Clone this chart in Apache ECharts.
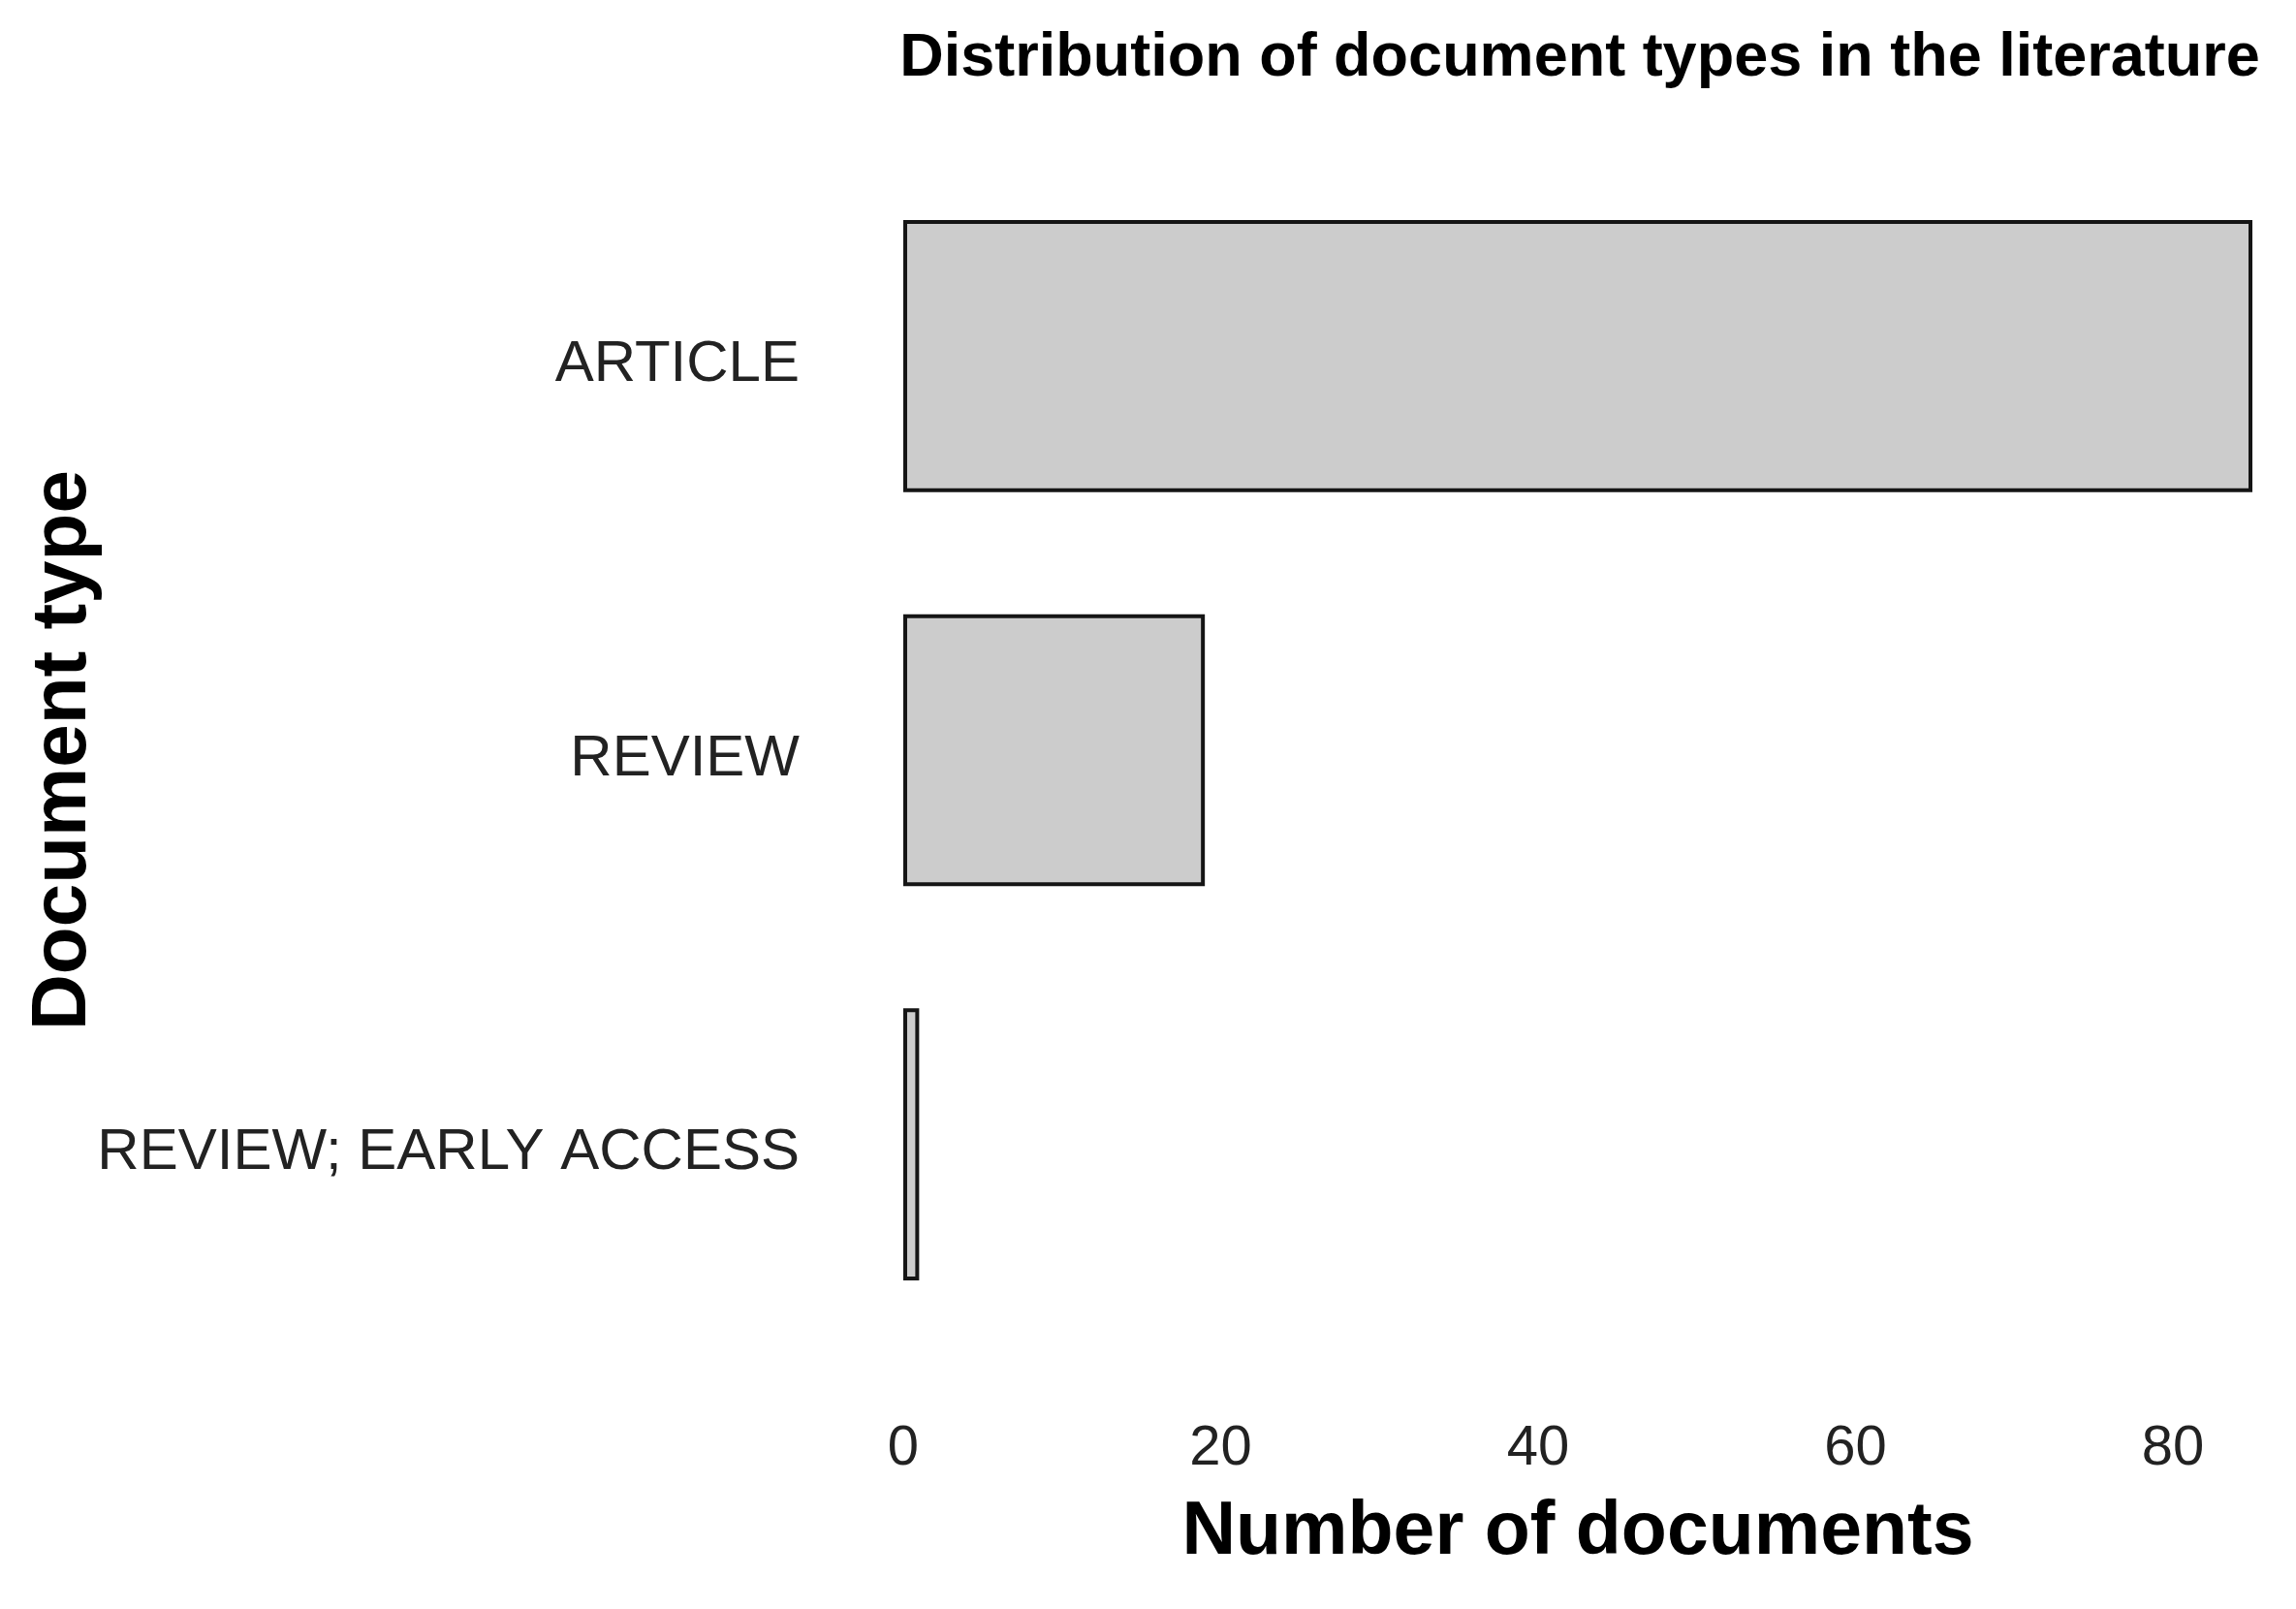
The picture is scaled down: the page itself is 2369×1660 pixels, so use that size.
<!DOCTYPE html>
<html>
<head>
<meta charset="utf-8">
<title>Distribution of document types</title>
<script src="https://cdn.jsdelivr.net/npm/echarts@6/dist/echarts.min.js"></script>
<style>
  html, body { margin: 0; padding: 0; background: #fff; }
  #main { width: 2369px; height: 1660px; }
</style>
</head>
<body>
<div id="main"></div>
<script>
// document types (top to bottom) and their counts
const docTypes = ["ARTICLE", "REVIEW", "REVIEW; EARLY ACCESS"];
const docCounts = [85, 19, 1];
const xTicks = [0, 20, 40, 60, 80];

const font = "'Liberation Sans', Arial, sans-serif";

const chart = echarts.init(document.getElementById("main"));

const option = {
  backgroundColor: "#fff",
  animation: false,
  title: {
    text: "Distribution of document types in the literature",
    left: 1625,
    top: 24,
    textAlign: "center",
    textStyle: { fontFamily: font, fontWeight: "bold", fontSize: 63, color: "#000" }
  },
  grid: {
    left: 932,
    right: 45,
    top: 164,
    bottom: 276
  },
  xAxis: {
    type: "value",
    min: 0,
    max: 85,
    interval: 20,
    name: "Number of documents",
    nameLocation: "middle",
    nameGap: 159,
    nameTextStyle: { fontFamily: font, fontWeight: "bold", fontSize: 77, color: "#000" },
    axisLine: { show: false },
    axisTick: { show: false },
    splitLine: { show: false },
    axisLabel: {
      margin: 82,
      showMaxLabel: false,
      fontFamily: font,
      fontSize: 58,
      color: "#222",
      formatter: function (v) { return xTicks.indexOf(v) >= 0 ? String(v) : ""; }
    }
  },
  yAxis: {
    type: "category",
    inverse: true,
    data: docTypes,
    name: "Document type",
    nameLocation: "middle",
    nameGap: 826,
    nameMoveOverlap: false,
    nameTextStyle: { fontFamily: font, fontWeight: "bold", fontSize: 80, color: "#000" },
    axisLine: { show: false },
    axisTick: { show: false },
    splitLine: { show: false },
    axisLabel: {
      margin: 107,
      formatter: function (v) { return "{t|" + v + "}"; },
      rich: {
        t: { fontFamily: font, fontSize: 60, color: "#222", padding: [18, 0, 0, 0] }
      }
    }
  },
  series: [{
    type: "bar",
    data: docCounts,
    barCategoryGap: "31%",
    itemStyle: { color: "#cccccc", borderColor: "#151515", borderWidth: 4 }
  }]
};

chart.setOption(option);
</script>
</body>
</html>
